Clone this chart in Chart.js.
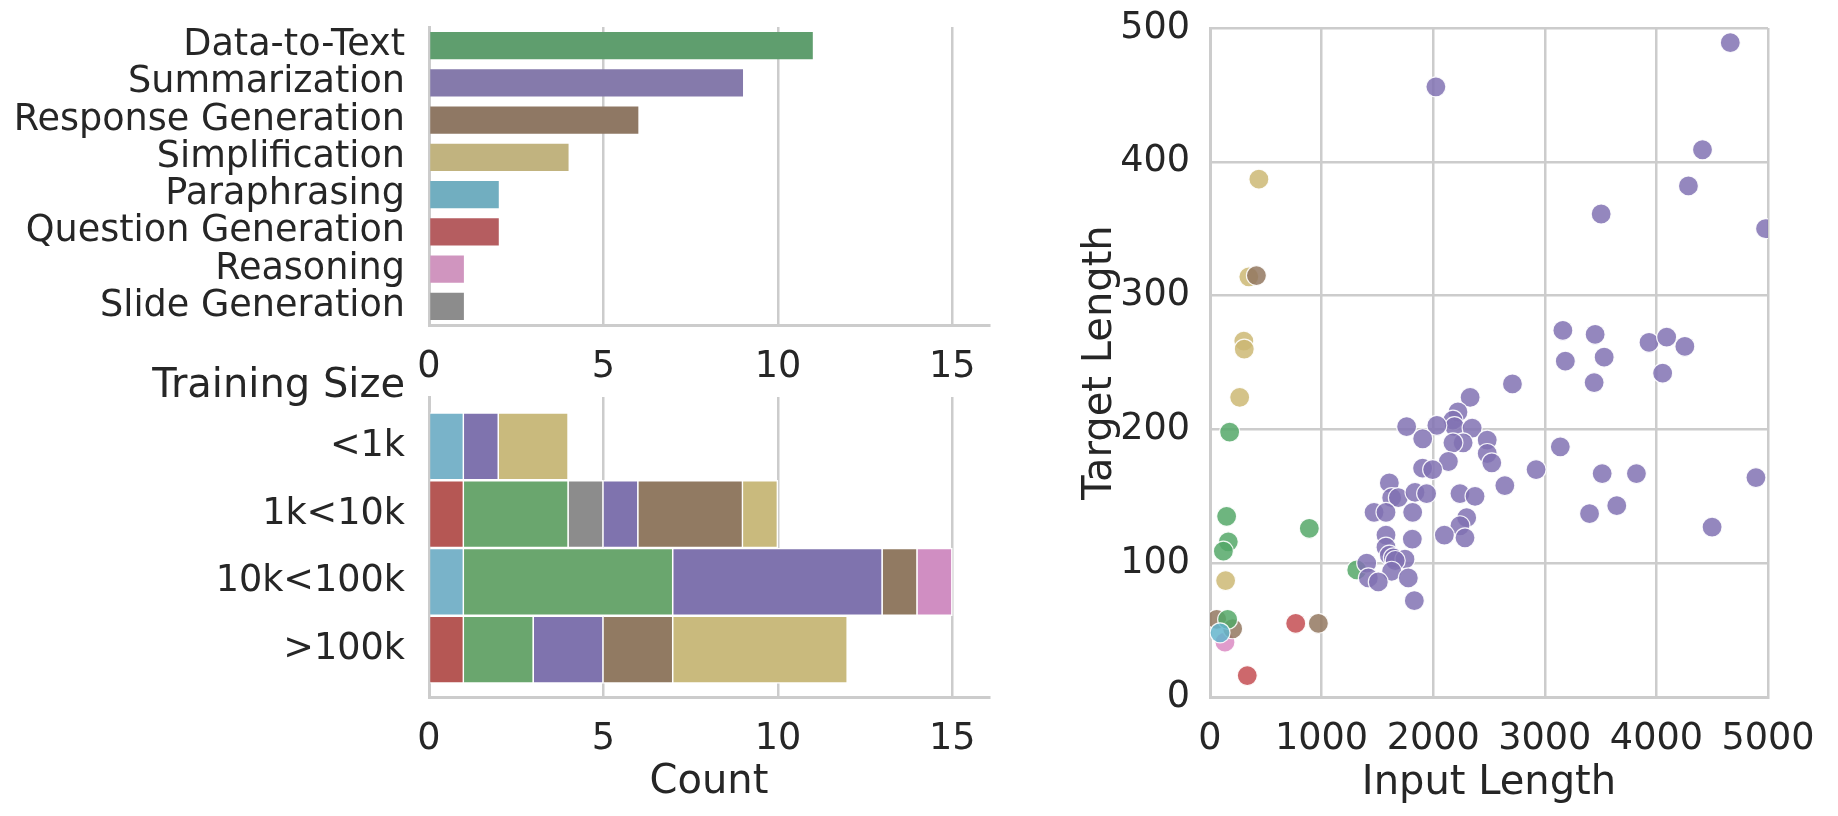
<!DOCTYPE html>
<html><head><meta charset="utf-8">
<script src="https://cdn.jsdelivr.net/npm/chart.js@4.4.1/dist/chart.umd.min.js"></script>
<style>
html,body{margin:0;padding:0;background:#fff;width:1838px;height:816px;overflow:hidden;}
.c{position:absolute;}
</style></head><body>
<div class="c" style="left:0;top:0;width:1000px;height:400px"><canvas id="c1" width="1000" height="400"></canvas></div>
<div class="c" style="left:0;top:340px;width:1000px;height:476px"><canvas id="c2" width="1000" height="476"></canvas></div>
<div class="c" style="left:1040px;top:0;width:798px;height:816px"><canvas id="c3" width="798" height="816"></canvas></div>
<script>
// ---------------- DATA ----------------
const taskLabels = ['Data-to-Text','Summarization','Response Generation','Simplification','Paraphrasing','Question Generation','Reasoning','Slide Generation'];
const taskCounts = [11, 9, 6, 4, 2, 2, 1, 1];
const countTicks = [0, 5, 10, 15];

const sizeLabels = ['<1k', '1k<10k', '10k<100k', '>100k'];
const sizeParaphrasing = [1, 0, 1, 0];
const sizeQuestionGen  = [0, 1, 0, 1];
const sizeDataToText   = [0, 3, 6, 2];
const sizeSlideGen     = [0, 1, 0, 0];
const sizeSummarization= [1, 1, 6, 2];
const sizeResponseGen  = [0, 3, 1, 2];
const sizeSimplification=[2, 1, 0, 5];
const sizeReasoning    = [0, 0, 1, 0];

const inputTicks = [0, 1000, 2000, 3000, 4000, 5000];
const targetTicks = [0, 100, 200, 300, 400, 500];

const ptsSummarization = [[4662,489],[2024,456],[4413,409],[4287,382],[3505,361],[4978,350],
 [3162,274],[3451,271],[3934,265],[4092,269],[4255,262],[3184,251],[3532,254],[4056,242],[3442,235],
 [2710,234],[2331,224],[2222,213],[2177,207],[2191,202],[2349,201],[1762,202],[2033,203],[1906,193],
 [2484,192],[2268,190],[2177,190],[2484,182],[2525,175],[2136,176],[1905,171],[1995,170],[2922,170],
 [3139,187],[3514,167],[3821,167],[4892,164],[1607,160],[2642,158],[1628,149],[1688,149],[1837,153],
 [1941,152],[2240,152],[2375,150],[3645,143],[3401,137],[1470,138],[1577,138],[1816,138],[2300,134],
 [2240,128],[4499,127],[1577,121],[1813,118],[2100,121],[2285,119],[1577,112],[1607,106],[1643,104],
 [1747,103],[1660,102],[1404,100],[1628,94],[1419,89],[1508,86],[1777,89],[1831,72]];
const ptsDataToText = [[176,198],[149,135],[164,116],[120,109],[158,58],[890,126],[1315,95]];
const ptsSimplification = [[438,387],[348,314],[303,266],[307,260],[266,224],[140,87]];
const ptsResponseGen = [[416,315],[60,58],[203,51],[971,55]];
const ptsQuestionGen = [[768,55],[334,16]];
const ptsParaphrasing = [[90,48]];
const ptsReasoning = [[134,41]];

// ---------------- STYLE ----------------
const FONT = 'DejaVu Sans';
const TXT = '#262626';
const GRID = '#cccccc';
const CLEAR = 'rgba(0,0,0,0)';
Chart.defaults.font.family = FONT;
Chart.defaults.color = TXT;
Chart.defaults.animation = false;
Chart.defaults.plugins.legend.display = false;
Chart.defaults.plugins.tooltip.enabled = false;

const barColors = ['#5f9e6e','#857aab','#8f7864','#c1b37f','#71aec0','#b55d60','#d095bf','#8c8c8c'];
const histColors = {para:'#79b3c9', qg:'#b55754', d2t:'#6aa66e', slide:'#8c8c8c', summ:'#7f73ae', resp:'#917a62', simp:'#c9ba7d', reas:'#d08ec2'};
const deep = {green:'85,168,104', purple:'129,114,179', brown:'147,120,96', yellow:'204,185,116', cyan:'100,181,205', red:'196,78,82', pink:'218,139,195'};
const PT_ALPHA = 0.85;

const tickFont = {family: FONT, size: 36.6};
const titleFont = {family: FONT, size: 40};
const xGrid = {color: GRID, lineWidth: 2.5, drawTicks: false};
const borderOpt = {color: GRID, width: 3};
// y axes: label gap produced by an invisible tick mark (keeps top padding small)
const yHiddenGrid = gap => ({display: true, color: CLEAR, drawTicks: true, tickLength: gap, tickColor: CLEAR});
const yGrid = gap => ({color: GRID, lineWidth: 2.5, drawTicks: true, tickLength: gap, tickColor: CLEAR});

// ---------------- CHART 1 : task counts ----------------
new Chart(document.getElementById('c1'), {
  type: 'bar',
  data: {labels: taskLabels, datasets: [{data: taskCounts, backgroundColor: barColors, borderWidth: 0,
    barPercentage: 0.73, categoryPercentage: 1}]},
  options: {
    responsive: false, indexAxis: 'y',
    layout: {padding: {top: 27, right: 11, left: 0, bottom: 0}},
    scales: {
      x: {type: 'linear', min: 0, max: 16.05,
        afterBuildTicks: s => { s.ticks = countTicks.map(v => ({value: v})); },
        afterFit: s => { s.height = 75; },
        ticks: {font: tickFont, padding: 21, color: TXT},
        grid: xGrid, border: borderOpt},
      y: {afterFit: s => { s.width = 429; },
        ticks: {font: tickFont, padding: 0, color: TXT, autoSkip: false},
        grid: yHiddenGrid(24), border: borderOpt}
    }
  }
});

// ---------------- CHART 2 : training size stacked ----------------
const pts = arr => arr.map((v, i) => v ? {x: v, y: i} : null).filter(p => p);
const histSets = [
  [sizeParaphrasing, histColors.para], [sizeQuestionGen, histColors.qg], [sizeDataToText, histColors.d2t],
  [sizeSlideGen, histColors.slide], [sizeSummarization, histColors.summ], [sizeResponseGen, histColors.resp],
  [sizeSimplification, histColors.simp], [sizeReasoning, histColors.reas]
].map(([arr, col]) => ({data: pts(arr), backgroundColor: col, borderColor: '#ffffff', borderWidth: 1.6,
  barPercentage: 1, categoryPercentage: 1}));

const trainingSizeLabel = {
  id: 'trainingSizeLabel',
  afterDraw(chart) {
    const ctx = chart.ctx;
    ctx.save();
    ctx.font = `40px "${FONT}"`;
    ctx.fillStyle = TXT;
    ctx.textAlign = 'right';
    ctx.textBaseline = 'alphabetic';
    ctx.fillText('Training Size', 405, 57);
    ctx.restore();
  }
};

new Chart(document.getElementById('c2'), {
  type: 'bar',
  data: {datasets: histSets},
  plugins: [trainingSizeLabel],
  options: {
    responsive: false, indexAxis: 'y',
    layout: {padding: {top: 57, right: 11, left: 0, bottom: 0}},
    scales: {
      x: {type: 'linear', min: 0, max: 16.05, stacked: true,
        afterBuildTicks: s => { s.ticks = countTicks.map(v => ({value: v})); },
        afterFit: s => { s.height = 119; },
        ticks: {font: tickFont, padding: 21, color: TXT},
        title: {display: true, text: 'Count', font: titleFont, color: TXT, padding: {top: 0, bottom: 9}},
        grid: xGrid, border: borderOpt},
      y: {type: 'linear', min: -0.73, max: 3.7, reverse: true, stacked: true, offset: false,
        afterBuildTicks: s => { s.ticks = sizeLabels.map((_, i) => ({value: i})); },
        afterFit: s => { s.width = 429; },
        ticks: {font: tickFont, padding: 0, color: TXT, autoSkip: false, callback: v => sizeLabels[v]},
        grid: yHiddenGrid(24), border: borderOpt}
    }
  }
});

// ---------------- CHART 3 : scatter ----------------
const toXY = arr => arr.map(([x, y]) => ({x, y}));
const sc = (arr, rgb, order) => ({data: toXY(arr), backgroundColor: `rgba(${rgb},${PT_ALPHA})`,
  borderColor: 'rgba(255,255,255,0.9)', borderWidth: 1.2, pointRadius: 10, order, clip: 0});

new Chart(document.getElementById('c3'), {
  type: 'scatter',
  data: {datasets: [
    sc(ptsParaphrasing, deep.cyan, 0),
    sc(ptsQuestionGen, deep.red, 1),
    sc(ptsSummarization, deep.purple, 2),
    sc(ptsDataToText, deep.green, 3),
    sc(ptsResponseGen, deep.brown, 4),
    sc(ptsReasoning, deep.pink, 5),
    sc(ptsSimplification, deep.yellow, 6)
  ]},
  options: {
    responsive: false,
    layout: {padding: {top: 28, right: 70, left: 0, bottom: 0}},
    scales: {
      x: {type: 'linear', min: 0, max: 5000,
        afterBuildTicks: s => { s.ticks = inputTicks.map(v => ({value: v})); },
        afterFit: s => { s.height = 119; },
        ticks: {font: tickFont, padding: 21, color: TXT, callback: v => String(v)},
        title: {display: true, text: 'Input Length', font: titleFont, color: TXT, padding: {top: 0, bottom: 8}},
        grid: xGrid, border: borderOpt},
      y: {type: 'linear', min: 0, max: 500,
        afterBuildTicks: s => { s.ticks = targetTicks.map(v => ({value: v})); },
        afterFit: s => { s.width = 170; },
        ticks: {font: tickFont, padding: 0, color: TXT, callback: v => String(v)},
        title: {display: true, text: 'Target Length', font: titleFont, color: TXT, padding: {top: 37, bottom: 0}},
        grid: yGrid(20), border: borderOpt}
    }
  }
});
</script>
</body></html>
